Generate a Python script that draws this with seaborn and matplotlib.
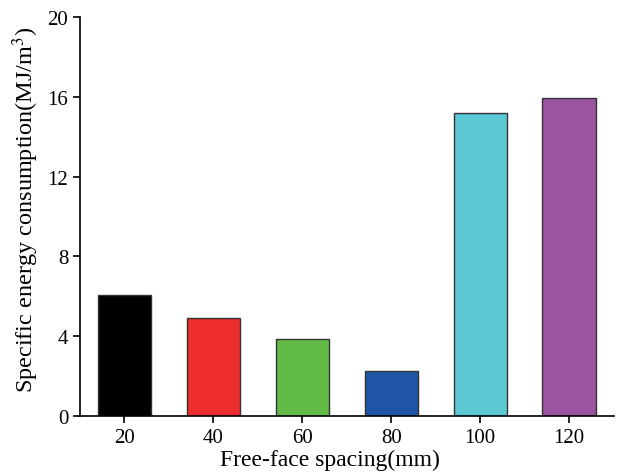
import matplotlib
matplotlib.use("Agg")
import matplotlib.pyplot as plt
import seaborn as sns
import pandas as pd

spacing = ["20", "40", "60", "80", "100", "120"]
energy = [6.05, 4.9, 3.86, 2.27, 15.2, 15.96]
colors = ["#000000", "#EE2E2E", "#62BB47", "#1F56A5", "#5BC8D4", "#9B549F"]
yticks = [0, 4, 8, 12, 16, 20]

sns.set_style("ticks")
plt.rcParams["font.family"] = ["Liberation Serif", "DejaVu Serif"]
plt.rcParams["mathtext.fontset"] = "stix"
plt.rcParams["text.color"] = "black"
plt.rcParams["axes.labelcolor"] = "black"
plt.rcParams["xtick.color"] = "black"
plt.rcParams["ytick.color"] = "black"

df = pd.DataFrame({"spacing": spacing, "energy": energy})

fig = plt.figure(figsize=(6.17, 4.77), dpi=100)
ax = fig.add_axes([80/617, 60/477, (613.6-80)/617, (417-18)/477])
sns.barplot(data=df, x="spacing", y="energy", hue="spacing", order=spacing,
            hue_order=spacing, palette=colors, width=0.6, legend=False,
            edgecolor="#333333", linewidth=1.0, ax=ax, saturation=1)
ax.set_xlim(-0.5, 5.5)
ax.set_ylim(0, 20)
ax.set_yticks(yticks)
ax.set_xlabel("Free-face spacing(mm)", fontsize=17)
ax.set_ylabel("Specific energy consumption(MJ/m$^3$)", fontsize=17.5)
ax.xaxis.set_label_coords(0.4685, -0.083)
ax.yaxis.set_label_coords(-0.073, 0.519)
ax.tick_params(axis="both", labelsize=15, direction="out", length=5, width=1.2,
               color="black", labelcolor="black")
for s in ["left", "bottom"]:
    ax.spines[s].set_linewidth(1.2)
    ax.spines[s].set_color("black")
sns.despine(ax=ax)
fig.savefig("out.png", dpi=100)
